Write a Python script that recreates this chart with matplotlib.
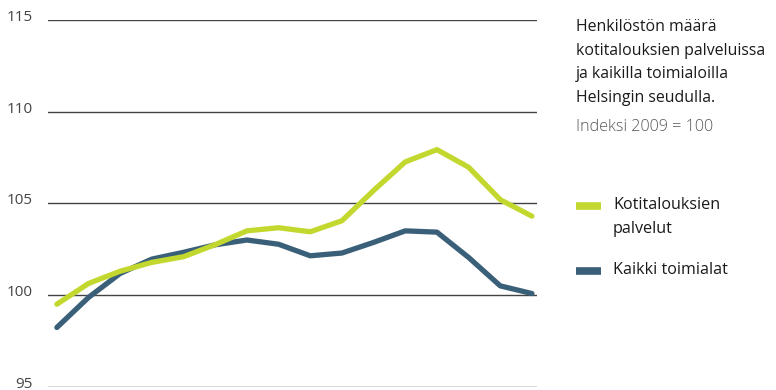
import matplotlib.pyplot as plt
import matplotlib.transforms as mtransforms

plt.rcParams['font.family'] = ['Open Sans', 'DejaVu Sans']

# index values, 2009 = 100 (16 points)
kotitaloudet = [99.5, 100.63, 101.3, 101.78, 102.09, 102.75, 103.5, 103.67,
                103.45, 104.05, 105.7, 107.26, 107.93, 106.97, 105.2, 104.3]
kaikki = [98.23, 99.87, 101.18, 101.96, 102.33, 102.74, 103.0, 102.77,
          102.14, 102.29, 102.87, 103.5, 103.43, 102.05, 100.5, 100.08]
yticks = [95, 100, 105, 110, 115]

green = '#c3d82e'
blue = '#3a6079'

fig = plt.figure(figsize=(7.76, 3.9), dpi=100)
ax = fig.add_axes([48 / 776, 1 - 386.7 / 390, (537 - 48) / 776, (386.7 - 20) / 390])

x = range(len(kotitaloudet))
for v in yticks:
    ax.axhline(v, color='#444444', lw=1.0, zorder=1)
ax.plot(x, kotitaloudet, color=green, lw=3.8, solid_capstyle='round', zorder=3)
ax.plot(x, kaikki, color=blue, lw=3.8, solid_capstyle='round', zorder=2)

ax.set_xlim(-0.28, 15.16)
ax.set_ylim(95, 115)
ax.set_xticks([])
ax.set_yticks(yticks)
ax.set_yticklabels([str(v) for v in yticks], color='#444444', fontsize=11,
                   va='center')
ax.tick_params(axis='y', length=0, pad=11)
shift = mtransforms.ScaledTranslation(0, 2.5 / 100, fig.dpi_scale_trans)
for t in ax.yaxis.get_major_ticks():
    t.label1.set_transform(t.label1.get_transform() + shift)
for s in ax.spines.values():
    s.set_visible(False)

# title block on the right
fx = 576 / 776
title_lines = ['Henkilöstön määrä', 'kotitalouksien palveluissa',
               'ja kaikilla toimialoilla', 'Helsingin seudulla.']
for i, line in enumerate(title_lines):
    fig.text(fx, 1 - (27 + i * 23.7) / 390, line, fontsize=11.4,
             color='#1a1a1a', va='center', ha='left')
fig.text(fx, 1 - 127 / 390, 'Indeksi 2009 = 100', fontsize=11.6,
         color='#555555', va='center', ha='left', fontweight='light')

# legend
legend_items = [(['Kotitalouksien', 'palvelut'], green, 206),
                (['Kaikki toimialat'], blue, 271)]
for lines, col, ypix in legend_items:
    fig.add_artist(plt.Line2D([576 / 776, 601 / 776], [1 - ypix / 390] * 2,
                              color=col, lw=5.5, solid_capstyle='butt'))
    for i, line in enumerate(lines):
        fig.text(613 / 776, 1 - (ypix - 1 + i * 24) / 390, line, fontsize=11.6,
                 color='#1a1a1a', va='center', ha='left')

fig.savefig('out.png', dpi=100)
